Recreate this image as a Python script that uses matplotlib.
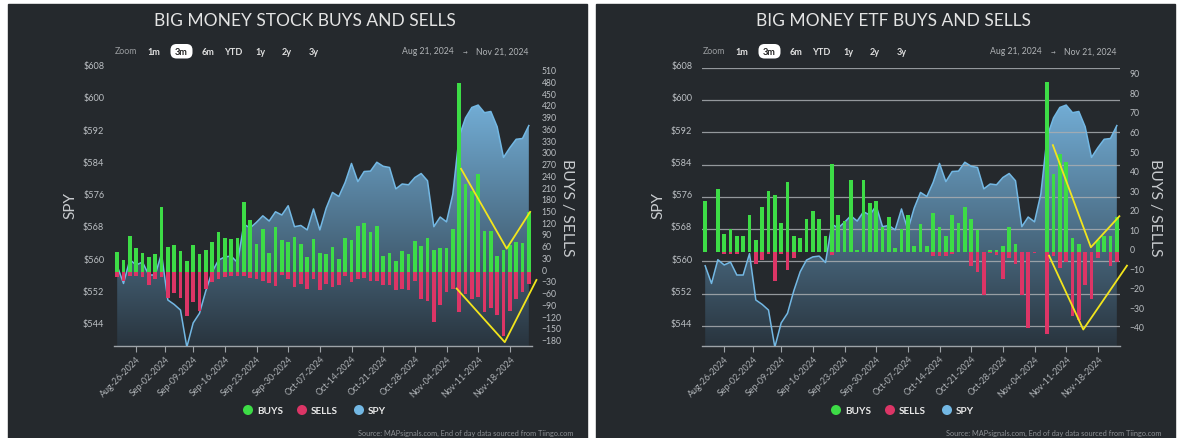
import numpy as np
import matplotlib.pyplot as plt
from matplotlib.patches import Rectangle, FancyBboxPatch, Circle, PathPatch
from matplotlib.transforms import ScaledTranslation

W, H = 1179, 439

# ---- data (trading days Aug 21 2024 .. Nov 21 2024) ----
spy = [558.9, 554.5, 560.4, 559.1, 559.8, 556.6, 556.6, 561.9, 550.4, 549.3,
       547.9, 538.7, 544.7, 547.1, 552.7, 557.4, 560.3, 561.1, 561.3, 559.7,
       569.2, 568.3, 569.7, 571.3, 570.0, 572.3, 571.5, 573.8, 568.6, 568.9,
       567.8, 573.0, 567.8, 573.2, 577.1, 576.1, 579.6, 584.3, 579.8, 582.3,
       582.4, 584.6, 583.6, 583.3, 578.0, 579.2, 579.0, 580.8, 581.8, 580.0,
       568.6, 571.0, 569.8, 576.7, 591.0, 595.6, 598.2, 598.8, 596.9, 597.2,
       593.4, 585.8, 588.2, 590.3, 590.5, 593.7]

stock_buys = [52, 32, 92, 62, 50, 40, 47, 167, 64, 69,
              56, 30, 71, 47, 58, 77, 103, 88, 85, 88,
              181, 133, 73, 110, 49, 116, 83, 77, 90, 73,
              39, 86, 49, 47, 64, 35, 88, 83, 120, 126,
              104, 118, 43, 50, 30, 56, 47, 81, 67, 88,
              58, 62, 63, 111, 485, 226, 208, 252, 107, 105,
              43, 58, 70, 79, 75, 154]
stock_sells = [-12, -23, -8, -10, -12, -32, -17, -12, -64, -53,
               -64, -112, -76, -98, -42, -25, -17, -12, -10, -8,
               -10, -14, -17, -21, -27, -34, -6, -17, -38, -30,
               -41, -17, -45, -29, -36, -32, -8, -25, -17, -15,
               -23, -23, -32, -32, -44, -41, -44, -21, -68, -72,
               -127, -84, -50, -41, -101, -55, -68, -63, -101, -91,
               -108, -162, -99, -68, -49, -29]

etf_buys = [26, 0, 32, 9, 12, 8, 8, 19, 6, 23,
            31, 29, 15, 36, 8, 7, 17, 21, 17, 8,
            45, 19, 16, 37, 1, 37, 25, 26, 13, 18,
            2, 12, 19, 3, 14.5, 3, 20, 12.6, 8, 19,
            15, 23, 17, 11, 0, 1, 1, 3, 13, 4,
            0, 0, 0, 0, 87, 40, 50, 46, 7, 4,
            0, 0, 6, 8, 8, 18]
etf_sells = [0, 0, 0, -1, -1, -1, 0, 0, -6, -4,
             -1, -15, -1, -9, -3, 0, 0, 0, 0, 0,
             -1.5, 0, 0, 0, 0, 0, 0, 0, 0, 0,
             0, 0, 0, 0, 0, 0, -2, -2, -2, -1,
             0, 0, -7, -10, -22, -0.5, -1.5, -14, -3, -6,
             -22, -39, -0.5, 0, -42, -2, -8, -5, -33, -35,
             -17, -24, -3, 0, -7, -5]

tick_pos = [3, 7.5, 12, 17, 22, 27, 32, 37, 42, 47, 52, 57, 62]
tick_labels = ['Aug-26-2024', 'Sep-02-2024', 'Sep-09-2024', 'Sep-16-2024', 'Sep-23-2024',
               'Sep-30-2024', 'Oct-07-2024', 'Oct-14-2024', 'Oct-21-2024', 'Oct-28-2024',
               'Nov-04-2024', 'Nov-11-2024', 'Nov-18-2024']
spy_ticks = [544, 552, 560, 568, 576, 584, 592, 600, 608]

# yellow trend annotations (x in trading-day index, y in buys/sells units)
stock_up_x, stock_up_y = [54.3, 61.5, 65.2], [265, 61, 155]
stock_dn_x, stock_dn_y = [53.6, 61.2, 66.2], [-41, -178, -19]
etf_up_x, etf_up_y = [54.9, 60.9, 65.4], [54.7, 2.4, 18.3]
etf_dn_x, etf_dn_y = [54.3, 59.7, 66.6], [-1.9, -39.7, -7]

PANEL = '#25292d'
GREEN = '#3ddc46'
RED = '#dc3566'
BLUE = '#73b8e4'
YELLOW = '#f2e51c'
LABEL = '#bcc0c4'
FONT = 'Lato'

fig = plt.figure(figsize=(W / 100, H / 100), dpi=100, facecolor='white')
bg = fig.add_axes([0, 0, 1, 1], zorder=0)
bg.set_xlim(0, W)
bg.set_ylim(H, 0)
bg.axis('off')

up = ScaledTranslation(0, 0.033, fig.dpi_scale_trans)


def panel(ox, title, buys, sells, bar_lim, bar_ticks, grid, ux, uy, dx, dy):
    bg.add_patch(Rectangle((ox + 8, 5), 579, 434, color=PANEL, zorder=0))
    bg.text(ox + 305, 21, title, ha='center', va='center', fontsize=12.5,
            color='#e4e4e4', family=FONT)

    # range selector row
    bg.text(ox + 115, 52, 'Zoom', ha='left', va='center', fontsize=6.3, color='#9a9da0', family=FONT)
    bg.add_patch(FancyBboxPatch((ox + 170.5, 45), 22, 14.5, boxstyle='round,pad=0,rounding_size=6',
                                fc='white', ec='none'))
    for lbl, cx in zip(['1m', '3m', '6m', 'YTD', '1y', '2y', '3y'],
                       [154, 181.5, 208, 233, 260, 287, 314]):
        bg.text(ox + cx, 52.5, lbl, ha='center', va='center', fontsize=6.6, fontweight='bold',
                color='#222222' if lbl == '3m' else '#e0e0e0', family=FONT)
    bg.text(ox + 428, 52, 'Aug 21, 2024', ha='center', va='center', fontsize=6.2, color='#b0b3b6', family=FONT)
    bg.text(ox + 465, 52, '\u2192', ha='center', va='center', fontsize=4, color='#b0b3b6')
    bg.text(ox + 502, 52, 'Nov 21, 2024', ha='center', va='center', fontsize=6.2, color='#b0b3b6', family=FONT)

    # axis titles
    bg.text(ox + 70, 206, 'SPY', rotation=90, ha='center', va='center', fontsize=11,
            color='#c8cbce', family=FONT)
    bg.text(ox + 567, 208, 'BUYS / SELLS', rotation=-90, ha='center', va='center', fontsize=11.3,
            color='#c8cbce', family=FONT)

    # legend
    for cx, col, name in [(249, GREEN, 'BUYS'), (303, RED, 'SELLS'), (360, BLUE, 'SPY')]:
        bg.add_patch(Circle((ox + cx - 1, 411), 4.3, color=col))
        bg.text(ox + cx + 8, 411.5, name, ha='left', va='center', fontsize=7.2, fontweight='bold',
                color='#e8e8e8', family=FONT)
    bg.text(ox + 573, 433, 'Source: MAPsignals.com, End of day data sourced from Tiingo.com',
            ha='right', va='center', fontsize=5.3, color='#8d9094', family=FONT)

    # price axis with SPY area
    ax = fig.add_axes([(ox + 114) / W, 1 - 347.3 / H, 418 / W, 278.3 / H], zorder=2)
    ax.set_facecolor('none')
    x = np.arange(len(spy))
    y0 = 538.9
    poly = ax.fill_between(x, spy, y0, color='none', lw=0)
    clip = PathPatch(poly.get_paths()[0], transform=ax.transData, fc='none', ec='none')
    ax.add_patch(clip)
    top_c = np.array([0x72, 0xad, 0xd5]) / 255
    bot_c = np.array([0x29, 0x34, 0x3e]) / 255
    t = np.linspace(0, 1, 256)[:, None, None]
    img = bot_c + (top_c - bot_c) * t
    im = ax.imshow(img, extent=(-0.5, 65.5, y0, max(spy)), origin='lower', aspect='auto', zorder=1)
    im.set_clip_path(clip)
    ax.plot(x, spy, color=BLUE, lw=1.1, zorder=3)
    if grid:
        for v in spy_ticks:
            ax.axhline(v, color='#a9adb1', lw=0.9, alpha=0.85, zorder=2)
    ax.set_xlim(-0.5, 65.5)
    ax.set_ylim(y0, 608)
    ax.set_yticks(spy_ticks, ['$%d' % v for v in spy_ticks])
    ax.tick_params(axis='y', length=0, pad=7, labelsize=6.6, labelcolor=LABEL)
    for lbl in ax.get_yticklabels():
        lbl.set_transform(lbl.get_transform() + up)
        lbl.set_family(FONT)
    ax.set_xticks(tick_pos, tick_labels, rotation=45, ha='right', rotation_mode='anchor')
    ax.tick_params(axis='x', length=4, width=0.8, color='#9ea3a8', pad=1.5,
                   labelsize=6.4, labelcolor='#aeb2b6')
    for lbl in ax.get_xticklabels():
        lbl.set_family(FONT)
    for s in ['top', 'left', 'right']:
        ax.spines[s].set_visible(False)
    ax.spines['bottom'].set_color('#9ea3a8')
    ax.spines['bottom'].set_linewidth(1)

    # buys / sells axis
    ax2 = ax.twinx()
    ax2.bar(x, buys, width=0.55, color=GREEN, zorder=3)
    ax2.bar(x, sells, width=0.55, color=RED, zorder=3)
    ax2.plot(ux, uy, color=YELLOW, lw=1.3, zorder=4, clip_on=False)
    ax2.plot(dx, dy, color=YELLOW, lw=1.3, zorder=4, clip_on=False)
    ax2.set_ylim(*bar_lim)
    ax2.set_yticks(bar_ticks)
    ax2.tick_params(axis='y', length=0, pad=7, labelsize=6.2, labelcolor=LABEL)
    for lbl in ax2.get_yticklabels():
        lbl.set_transform(lbl.get_transform() + up)
        lbl.set_family(FONT)
    for s in ax2.spines.values():
        s.set_visible(False)


panel(0, 'BIG MONEY STOCK BUYS AND SELLS', stock_buys, stock_sells,
      (-188.6, 522.6), list(range(-180, 511, 30)), False,
      stock_up_x, stock_up_y, stock_dn_x, stock_dn_y)
panel(588, 'BIG MONEY ETF BUYS AND SELLS', etf_buys, etf_sells,
      (-48.3, 94.2), list(range(-40, 91, 10)), True,
      etf_up_x, etf_up_y, etf_dn_x, etf_dn_y)

fig.savefig('out.png', dpi=100, facecolor='white')
